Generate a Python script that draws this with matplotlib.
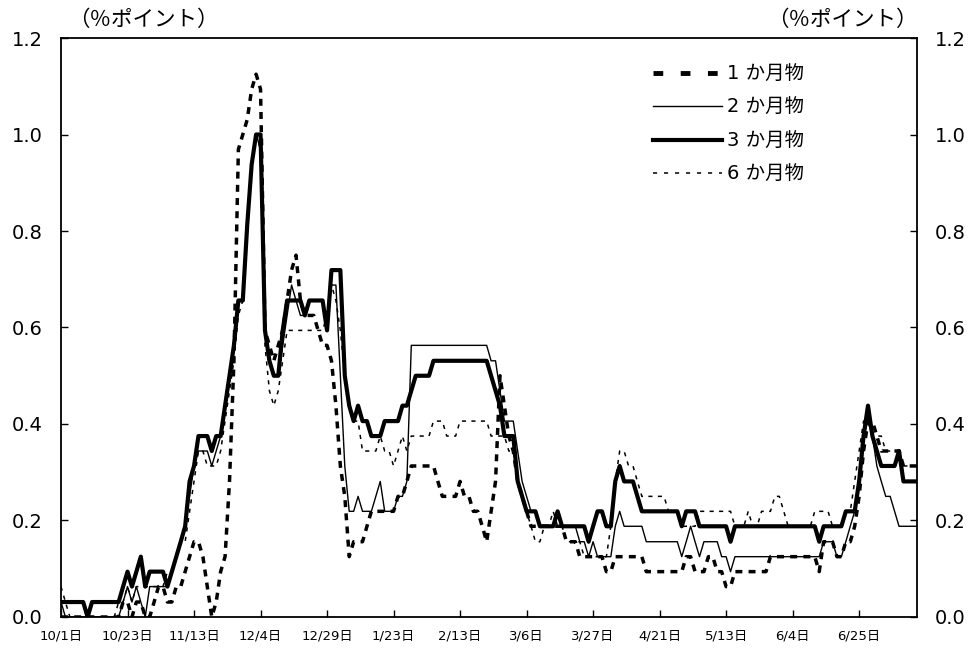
import numpy as np
import matplotlib.pyplot as plt
from matplotlib.lines import Line2D

plt.rcParams['font.family'] = ['DejaVu Sans', 'Noto Sans CJK JP']

# x tick labels, one every 15 business days
tick_labels = ["10/1日", "10/23日", "11/13日", "12/4日", "12/29日", "1/23日", "2/13日",
               "3/6日", "3/27日", "4/21日", "5/13日", "6/4日", "6/25日"]
tick_step = 15

series_names = ["1 か月物", "2 か月物", "3 か月物", "6 か月物"]

# spreads (% points), one value per business day
m1 = [0.0, 0.0, 0.0, 0.0, 0.0, 0.0, 0.0, 0.0, 0.0, 0.0,
      0.0, 0.0, 0.0, 0.0, 0.031, 0.031, 0.0, 0.031, 0.031, 0.0,
      0.0, 0.031, 0.063, 0.063, 0.031, 0.031, 0.063, 0.063, 0.094, 0.125,
      0.156, 0.156, 0.125, 0.063, 0.0, 0.031, 0.094, 0.125, 0.281, 0.531,
      0.969, 1.0, 1.031, 1.094, 1.125, 1.094, 0.594, 0.563, 0.531, 0.563,
      0.594, 0.656, 0.719, 0.75, 0.656, 0.625, 0.625, 0.625, 0.594, 0.563,
      0.563, 0.531, 0.438, 0.313, 0.25, 0.125, 0.156, 0.156, 0.156, 0.188,
      0.219, 0.219, 0.219, 0.219, 0.219, 0.219, 0.25, 0.25, 0.281, 0.313,
      0.313, 0.313, 0.313, 0.313, 0.313, 0.281, 0.25, 0.25, 0.25, 0.25,
      0.281, 0.25, 0.25, 0.219, 0.219, 0.188, 0.156, 0.219, 0.281, 0.5,
      0.438, 0.375, 0.344, 0.281, 0.25, 0.219, 0.188, 0.188, 0.188, 0.188,
      0.188, 0.188, 0.188, 0.188, 0.156, 0.156, 0.156, 0.125, 0.125, 0.125,
      0.125, 0.125, 0.125, 0.094, 0.094, 0.125, 0.125, 0.125, 0.125, 0.125,
      0.125, 0.125, 0.094, 0.094, 0.094, 0.094, 0.094, 0.094, 0.094, 0.094,
      0.094, 0.125, 0.125, 0.094, 0.094, 0.094, 0.125, 0.125, 0.094, 0.094,
      0.063, 0.063, 0.094, 0.094, 0.094, 0.094, 0.094, 0.094, 0.094, 0.094,
      0.125, 0.125, 0.125, 0.125, 0.125, 0.125, 0.125, 0.125, 0.125, 0.125,
      0.125, 0.094, 0.156, 0.156, 0.156, 0.125, 0.125, 0.156, 0.156, 0.188,
      0.25, 0.344, 0.406, 0.406, 0.375, 0.344, 0.344, 0.344, 0.344, 0.344,
      0.313, 0.313, 0.313, 0.313]

m2 = [0.031, 0.0, 0.0, 0.0, 0.0, 0.0, 0.0, 0.0, 0.0, 0.0,
      0.0, 0.0, 0.0, 0.0, 0.031, 0.063, 0.031, 0.063, 0.031, 0.0,
      0.063, 0.063, 0.063, 0.063, 0.063, 0.094, 0.125, 0.156, 0.188, 0.25,
      0.313, 0.344, 0.344, 0.344, 0.313, 0.344, 0.375, 0.438, 0.5, 0.563,
      0.656, 0.656, 0.813, 0.938, 1.0, 0.969, 0.594, 0.531, 0.5, 0.5,
      0.563, 0.625, 0.688, 0.656, 0.625, 0.625, 0.656, 0.656, 0.656, 0.656,
      0.594, 0.688, 0.688, 0.5, 0.313, 0.219, 0.219, 0.25, 0.219, 0.219,
      0.219, 0.25, 0.281, 0.219, 0.219, 0.219, 0.25, 0.25, 0.281, 0.563,
      0.563, 0.563, 0.563, 0.563, 0.563, 0.563, 0.563, 0.563, 0.563, 0.563,
      0.563, 0.563, 0.563, 0.563, 0.563, 0.563, 0.563, 0.531, 0.531, 0.469,
      0.406, 0.406, 0.406, 0.344, 0.281, 0.25, 0.219, 0.219, 0.188, 0.188,
      0.188, 0.188, 0.219, 0.188, 0.188, 0.188, 0.188, 0.156, 0.156, 0.125,
      0.156, 0.125, 0.125, 0.125, 0.125, 0.188, 0.219, 0.188, 0.188, 0.188,
      0.188, 0.188, 0.156, 0.156, 0.156, 0.156, 0.156, 0.156, 0.156, 0.156,
      0.125, 0.156, 0.188, 0.156, 0.125, 0.156, 0.156, 0.156, 0.156, 0.125,
      0.125, 0.094, 0.125, 0.125, 0.125, 0.125, 0.125, 0.125, 0.125, 0.125,
      0.125, 0.125, 0.125, 0.125, 0.125, 0.125, 0.125, 0.125, 0.125, 0.125,
      0.125, 0.125, 0.156, 0.156, 0.156, 0.125, 0.125, 0.156, 0.188, 0.219,
      0.281, 0.375, 0.406, 0.375, 0.313, 0.281, 0.25, 0.25, 0.219, 0.188,
      0.188, 0.188, 0.188, 0.188]

m3 = [0.031, 0.031, 0.031, 0.031, 0.031, 0.031, 0.0, 0.031, 0.031, 0.031,
      0.031, 0.031, 0.031, 0.031, 0.063, 0.094, 0.063, 0.094, 0.125, 0.063,
      0.094, 0.094, 0.094, 0.094, 0.063, 0.094, 0.125, 0.156, 0.188, 0.281,
      0.313, 0.375, 0.375, 0.375, 0.344, 0.375, 0.375, 0.438, 0.5, 0.563,
      0.656, 0.656, 0.813, 0.938, 1.0, 1.0, 0.594, 0.531, 0.5, 0.5,
      0.594, 0.656, 0.656, 0.656, 0.656, 0.625, 0.656, 0.656, 0.656, 0.656,
      0.594, 0.719, 0.719, 0.719, 0.5, 0.438, 0.406, 0.438, 0.406, 0.406,
      0.375, 0.375, 0.375, 0.406, 0.406, 0.406, 0.406, 0.438, 0.438, 0.469,
      0.5, 0.5, 0.5, 0.5, 0.531, 0.531, 0.531, 0.531, 0.531, 0.531,
      0.531, 0.531, 0.531, 0.531, 0.531, 0.531, 0.531, 0.5, 0.469, 0.438,
      0.375, 0.375, 0.375, 0.281, 0.25, 0.219, 0.219, 0.219, 0.188, 0.188,
      0.188, 0.188, 0.219, 0.188, 0.188, 0.188, 0.188, 0.188, 0.188, 0.156,
      0.188, 0.219, 0.219, 0.188, 0.188, 0.281, 0.313, 0.281, 0.281, 0.281,
      0.25, 0.219, 0.219, 0.219, 0.219, 0.219, 0.219, 0.219, 0.219, 0.219,
      0.188, 0.219, 0.219, 0.219, 0.188, 0.188, 0.188, 0.188, 0.188, 0.188,
      0.188, 0.156, 0.188, 0.188, 0.188, 0.188, 0.188, 0.188, 0.188, 0.188,
      0.188, 0.188, 0.188, 0.188, 0.188, 0.188, 0.188, 0.188, 0.188, 0.188,
      0.188, 0.156, 0.188, 0.188, 0.188, 0.188, 0.188, 0.219, 0.219, 0.219,
      0.281, 0.375, 0.438, 0.375, 0.344, 0.313, 0.313, 0.313, 0.313, 0.344,
      0.281, 0.281, 0.281, 0.281]

m6 = [0.063, 0.031, 0.0, 0.0, 0.0, 0.0, 0.0, 0.0, 0.0, 0.0,
      0.0, 0.0, 0.0, 0.031, 0.031, 0.063, 0.031, 0.063, 0.063, 0.063,
      0.063, 0.063, 0.063, 0.063, 0.094, 0.094, 0.125, 0.156, 0.156, 0.219,
      0.281, 0.344, 0.344, 0.313, 0.313, 0.313, 0.344, 0.406, 0.469, 0.531,
      0.625, 0.656, 0.813, 0.938, 1.0, 0.969, 0.563, 0.469, 0.438, 0.469,
      0.531, 0.594, 0.594, 0.594, 0.594, 0.594, 0.594, 0.594, 0.594, 0.594,
      0.625, 0.688, 0.656, 0.594, 0.5, 0.438, 0.406, 0.406, 0.344, 0.344,
      0.344, 0.344, 0.375, 0.344, 0.344, 0.313, 0.344, 0.375, 0.344, 0.375,
      0.375, 0.375, 0.375, 0.375, 0.406, 0.406, 0.406, 0.375, 0.375, 0.375,
      0.406, 0.406, 0.406, 0.406, 0.406, 0.406, 0.406, 0.375, 0.375, 0.375,
      0.375, 0.344, 0.344, 0.281, 0.25, 0.219, 0.188, 0.156, 0.156, 0.188,
      0.188, 0.219, 0.188, 0.188, 0.156, 0.156, 0.156, 0.156, 0.125, 0.125,
      0.125, 0.125, 0.125, 0.125, 0.188, 0.281, 0.344, 0.344, 0.313, 0.313,
      0.281, 0.25, 0.25, 0.25, 0.25, 0.25, 0.25, 0.219, 0.219, 0.219,
      0.188, 0.188, 0.188, 0.188, 0.219, 0.219, 0.219, 0.219, 0.219, 0.219,
      0.219, 0.219, 0.188, 0.188, 0.188, 0.219, 0.188, 0.188, 0.219, 0.219,
      0.219, 0.25, 0.25, 0.219, 0.188, 0.188, 0.188, 0.188, 0.188, 0.188,
      0.219, 0.219, 0.219, 0.219, 0.188, 0.188, 0.188, 0.219, 0.219, 0.281,
      0.344, 0.406, 0.406, 0.375, 0.375, 0.375, 0.344, 0.344, 0.344, 0.344,
      0.313, 0.313, 0.313, 0.313]

x = np.arange(len(m3))

fig = plt.figure(figsize=(9.73, 6.52), dpi=100)
ax = fig.add_axes([0.0627, 0.0537, 0.8795, 0.888])

# series styles
ax.plot(x, m1, color='black', lw=2.5, linestyle=(0, (2.0, 1.8)), solid_capstyle='butt')
ax.plot(x, m2, color='black', lw=1.0)
ax.plot(x, m3, color='black', lw=3.0, solid_joinstyle='round')
ax.plot(x, m6, color='black', lw=1.1, linestyle=(0, (2.7, 3.5)))

# legend with the same look as the reference
handles = [Line2D([], [], color='black', lw=3.5, linestyle=(0, (2.0, 3.6))),
           Line2D([], [], color='black', lw=1.0),
           Line2D([], [], color='black', lw=3.0),
           Line2D([], [], color='black', lw=1.1, linestyle=(0, (2.7, 4.5)))]
ax.legend(handles, series_names, loc='upper left', bbox_to_anchor=(0.681, 0.971),
          frameon=False, fontsize=14, handlelength=3.5, handletextpad=0.3,
          labelspacing=0.75, borderpad=0)

ax.set_xlim(0, len(m3) - 1)
ax.set_ylim(0, 1.2)
ax.set_yticks(np.arange(0, 1.21, 0.2))
ax.set_yticklabels([f"{v:.1f}" for v in np.arange(0, 1.21, 0.2)])
ax.set_xticks(np.arange(0, len(tick_labels) * tick_step, tick_step))
ax.set_xticklabels(tick_labels, fontsize=9.5)

ax.tick_params(axis='y', direction='in', length=5, width=1, labelsize=14,
               left=True, right=True, labelleft=True, labelright=True, pad=13)
ax.tick_params(axis='x', direction='in', length=5, width=1, pad=9)
for s in ax.spines.values():
    s.set_linewidth(1.3)

cjk = ['Noto Sans CJK JP', 'DejaVu Sans']
fig.text(0.147, 0.969, "（％ポイント）", fontsize=15.5, ha='center', va='center', family=cjk)
fig.text(0.866, 0.969, "（％ポイント）", fontsize=15.5, ha='center', va='center', family=cjk)

plt.savefig("out.png", dpi=100)
